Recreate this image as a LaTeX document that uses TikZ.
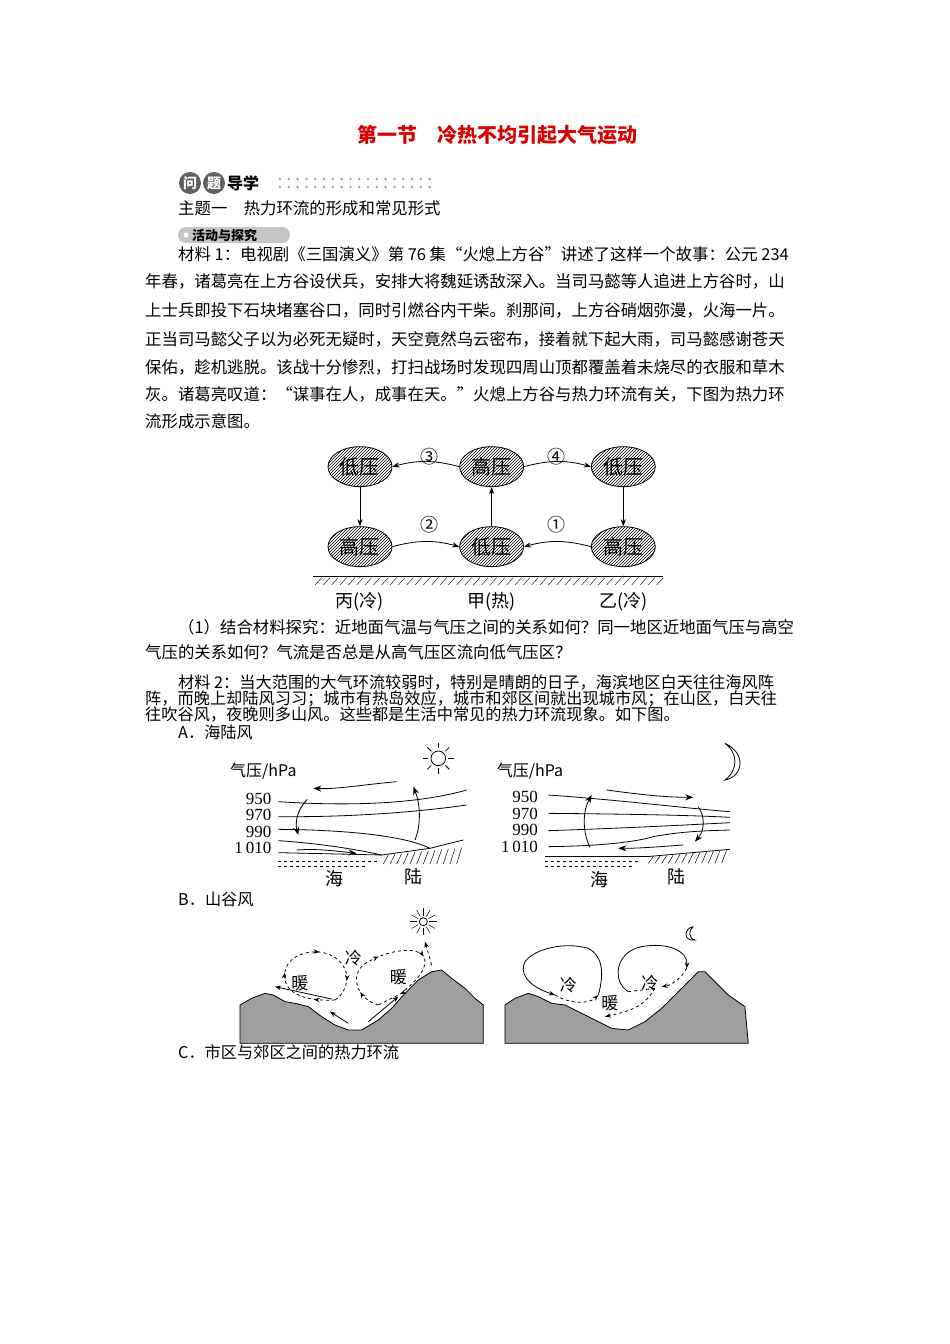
\documentclass[tikz,border=0pt]{standalone}
\usepackage{fontspec}
\setmainfont{Noto Sans CJK SC}
\newfontfamily\numf{Liberation Serif}
\usetikzlibrary{shapes.geometric,patterns,arrows.meta,decorations.markings}
\tikzset{
 ln/.style={anchor=west,inner sep=0,font=\fontsize{16.4}{16.4}\selectfont},
 ln2/.style={anchor=west,inner sep=0,font=\fontsize{16.2}{16.2}\selectfont},
 pres/.style={ellipse,draw,thick,pattern=north east lines,minimum width=64,minimum height=40,inner sep=0},
 plab/.style={inner sep=0,font=\fontsize{20}{20}\selectfont},
 arr/.style={-{Stealth[length=7pt]},thick},
 num/.style={font=\fontsize{18}{18}\selectfont,inner sep=0},
 midarrs/.style={postaction={decorate},decoration={markings,mark=between positions 0.12 and 1 step 0.25 with {\arrow{Stealth[length=6pt]}}}},
}
\begin{document}
\begin{tikzpicture}[x=1pt,y=-1pt]
\useasboundingbox[fill=white] (0,0) rectangle (950,1344);
% title
\node[inner sep=0,text=red!85!black,font=\bfseries\fontsize{20}{20}\selectfont] (title) at (497,135) {第一节\quad 冷热不均引起大气运动};
% header
\fill[gray!75!black] (190,183) circle (11);
\fill[gray!75!black] (214,183) circle (11);
\node[text=white,font=\bfseries\fontsize{14}{14}\selectfont,inner sep=0] (q1) at (190,183) {问};
\node[text=white,font=\bfseries\fontsize{14}{14}\selectfont,inner sep=0] (q2) at (214,183) {题};
\node[anchor=west,inner sep=0,font=\bfseries\fontsize{16}{16}\selectfont] (dx) at (227,183) {导学};
\foreach \i in {0,...,17}{\fill[gray!70] (280+\i*8.8,179) circle (1.4); \fill[gray!70] (280+\i*8.8,187) circle (1.4);}
\node[ln] (t1) at (178,208) {主题一\quad 热力环流的形成和常见形式};
\fill[gray!45,rounded corners=8] (178,227) rectangle (290,243);
\fill[white] (186,235) circle (2.5);
\node[anchor=west,inner sep=0,font=\bfseries\fontsize{13}{13}\selectfont] (hd) at (192,235) {活动与探究};
% paragraph 1
\node[ln] (p1) at (178,254) {材料 1：电视剧《三国演义》第 76 集“火熄上方谷”讲述了这样一个故事：公元 234};
\node[ln] (p2) at (145,281) {年春，诸葛亮在上方谷设伏兵，安排大将魏延诱敌深入。当司马懿等人追进上方谷时，山};
\node[ln] (p3) at (145,310) {上士兵即投下石块堵塞谷口，同时引燃谷内干柴。刹那间，上方谷硝烟弥漫，火海一片。};
\node[ln] (p4) at (145,339) {正当司马懿父子以为必死无疑时，天空竟然乌云密布，接着就下起大雨，司马懿感谢苍天};
\node[ln] (p5) at (145,367) {保佑，趁机逃脱。该战十分惨烈，打扫战场时发现四周山顶都覆盖着未烧尽的衣服和草木};
\node[ln] (p6) at (145,394) {灰。诸葛亮叹道：“谋事在人，成事在天。”火熄上方谷与热力环流有关，下图为热力环};
\node[ln] (p7) at (145,421) {流形成示意图。};
% circulation diagram
\begin{scope}[shift={(300,435)},x=0.3333pt,y=-0.3333pt]
\node[pres] (l1) at (180,95) {}; \node[plab] at (l1) {低压};
\node[pres] (h2) at (575,95) {}; \node[plab] at (h2) {高压};
\node[pres] (l3) at (970,95) {}; \node[plab] at (l3) {低压};
\node[pres] (h4) at (180,335) {}; \node[plab] at (h4) {高压};
\node[pres] (l5) at (575,335) {}; \node[plab] at (l5) {低压};
\node[pres] (h6) at (970,335) {}; \node[plab] at (h6) {高压};
\draw[arr] (h2.west) to[bend right=15] (l1.east);
\draw[arr] (h2.east) to[bend left=15] (l3.west);
\draw[arr] (h4.east) to[bend left=15] (l5.west);
\draw[arr] (h6.west) to[bend right=15] (l5.east);
\draw[arr] (l1.south) -- (h4.north);
\draw[arr] (l5.north) -- (h2.south);
\draw[arr] (l3.south) -- (h6.north);
\node[num] (n3) at (390,65) {③};
\node[num] (n4) at (770,65) {④};
\node[num] (n2) at (390,270) {②};
\node[num] (n1) at (770,270) {①};
\draw[thick] (40,425) -- (1090,425);
\foreach \x in {45,70,...,1080}{\draw (\x,450) -- ({\x+20},428);}
\foreach \x/\n in {180/a,575/b,970/c}{\fill (\x,425) circle (3) coordinate (d\n);}
\node[inner sep=0,font=\fontsize{18}{18}\selectfont] (g1) at (180,500) {丙(冷)};
\node[inner sep=0,font=\fontsize{18}{18}\selectfont] (g2) at (575,500) {甲(热)};
\node[inner sep=0,font=\fontsize{18}{18}\selectfont] (g3) at (970,500) {乙(冷)};
\end{scope}
\node[ln] (q1t) at (178,627) {（1）结合材料探究：近地面气温与气压之间的关系如何？同一地区近地面气压与高空};
\node[ln] (q2t) at (145,652) {气压的关系如何？气流是否总是从高气压区流向低气压区？};
\node[ln2] (m1) at (178,683) {材料 2：当大范围的大气环流较弱时，特别是晴朗的日子，海滨地区白天往往海风阵};
\node[ln2] (m2) at (145,699) {阵，而晚上却陆风习习；城市有热岛效应，城市和郊区间就出现城市风；在山区，白天往};
\node[ln2] (m3) at (145,715) {往吹谷风，夜晚则多山风。这些都是生活中常见的热力环流现象。如下图。};
\node[ln2] (sA) at (178,732) {A．海陆风};
\node[ln2] (sB) at (178,899) {B．山谷风};
\node[ln2] (sC) at (178,1052) {C．市区与郊区之间的热力环流};
% sea-land breeze
\begin{scope}[shift={(220,740)},x=0.3333pt,y=-0.3333pt,line width=0.8pt]
\node[inner sep=0,font=\fontsize{16}{16}\selectfont] (yl1) at (130,95) {气压/hPa};
\foreach \v/\y in {950/178,970/225,990/275}{\node[inner sep=0,anchor=east,font=\numf\fontsize{17}{17}\selectfont] at (155,\y) {\v};}
\node[inner sep=0,anchor=east,font=\numf\fontsize{17}{17}\selectfont] at (155,325) {1\,010};
\draw (175,185) .. controls (400,200) and (600,190) .. (740,150);
\draw (175,230) .. controls (400,232) and (600,215) .. (740,195);
\draw (175,268) .. controls (400,270) and (560,290) .. (630,325);
\draw (175,302) .. controls (300,310) and (420,330) .. (485,345);
\draw (175,338) -- (485,345);
\draw (485,345) -- (630,325) -- (730,300);
\foreach \x in {490,510,...,720}{\draw[line width=0.5pt] (\x,372) -- ({\x+15},{345-(\x-490)*0.1});}
\draw[dashed] (175,365) -- (480,365);
\draw[dashed] (175,378) -- (440,378);
\draw[-{Stealth[length=8pt]}] (530,125) .. controls (420,135) and (350,148) .. (280,145);
\draw[-{Stealth[length=8pt]}] (262,178) .. controls (230,210) and (225,250) .. (235,285);
\draw[-{Stealth[length=8pt]}] (230,330) .. controls (300,325) and (360,335) .. (410,340);
\draw[-{Stealth[length=8pt]}] (585,300) .. controls (605,250) and (600,190) .. (580,140);
\node[inner sep=0,font=\fontsize{18}{18}\selectfont] (sea1) at (345,415) {海};
\node[inner sep=0,font=\fontsize{18}{18}\selectfont] (land1) at (580,410) {陆};
\draw (655,55) circle (22);
\foreach \a in {0,45,...,315}{\draw (655,55) ++(\a:30) -- ++(\a:17);}
% right
\node[inner sep=0,font=\fontsize{16}{16}\selectfont] (yl2) at (930,95) {气压/hPa};
\foreach \v/\y in {950/170,970/222,990/270}{\node[inner sep=0,anchor=east,font=\numf\fontsize{17}{17}\selectfont] at (955,\y) {\v};}
\node[inner sep=0,anchor=east,font=\numf\fontsize{17}{17}\selectfont] at (955,320) {1\,010};
\draw (985,165) .. controls (1200,180) and (1400,205) .. (1530,215);
\draw (985,220) .. controls (1200,222) and (1400,225) .. (1530,232);
\draw (985,272) .. controls (1200,265) and (1400,255) .. (1530,248);
\draw (985,320) .. controls (1150,318) and (1250,305) .. (1300,290) .. controls (1380,275) and (1450,272) .. (1530,270);
\draw (975,350) -- (1280,350);
\draw[dashed] (975,365) -- (1260,365);
\draw[dashed] (975,378) -- (1240,378);
\draw (1280,350) -- (1530,328);
\foreach \x in {1285,1305,...,1515}{\draw[line width=0.5pt] (\x,370) -- ({\x+15},{350-(\x-1285)*0.088});}
\draw[-{Stealth[length=8pt]}] (1160,150) .. controls (1250,162) and (1330,172) .. (1420,172);
\draw[-{Stealth[length=8pt]}] (1435,200) .. controls (1455,230) and (1455,270) .. (1425,305);
\draw[-{Stealth[length=8pt]}] (1390,315) .. controls (1320,320) and (1260,325) .. (1195,325);
\draw[-{Stealth[length=8pt]}] (1110,322) .. controls (1085,270) and (1090,210) .. (1115,165);
\node[inner sep=0,font=\fontsize{18}{18}\selectfont] (sea2) at (1140,420) {海};
\node[inner sep=0,font=\fontsize{18}{18}\selectfont] (land2) at (1370,410) {陆};
\draw (1515,10) .. controls (1580,40) and (1570,110) .. (1515,120) .. controls (1555,90) and (1555,40) .. (1515,10);
\end{scope}
% mountain-valley
\begin{scope}[shift={(235,905)},x=0.3333pt,y=-0.3333pt,line width=0.8pt]
\fill[gray!75,draw=black] (15,415) -- (15,300) -- (50,280) -- (90,265) -- (115,270) -- (150,290) -- (180,295) -- (220,305) -- (260,335) -- (300,360) -- (340,375) -- (380,375) -- (430,345) -- (470,310) -- (510,265) -- (550,225) -- (590,200) -- (620,195) -- (650,220) -- (690,250) -- (720,280) -- (745,300) -- (745,415) -- cycle;
\draw[dashed,midarrs] (300,285) .. controls (200,290) and (140,260) .. (150,200) .. controls (160,140) and (260,120) .. (310,165) .. controls (350,200) and (340,260) .. (300,285);
\draw[dashed,midarrs] (430,300) .. controls (360,280) and (340,200) .. (400,170) .. controls (470,130) and (570,120) .. (570,170) .. controls (570,200) and (540,230) .. (500,265) -- (430,300);
\draw[-{Stealth[length=6pt]}] (290,282) -- (120,245);
\draw[-{Stealth[length=6pt]}] (340,355) -- (285,320);
\draw[-{Stealth[length=6pt]}] (400,350) -- (490,275);
\draw[dashed,-{Stealth[length=6pt]}] (590,180) -- (570,110);
\node[inner sep=0,font=\fontsize{17}{17}\selectfont] (w1) at (195,235) {暖};
\node[inner sep=0,font=\fontsize{17}{17}\selectfont] (c1) at (355,160) {冷};
\node[inner sep=0,font=\fontsize{17}{17}\selectfont] (w2) at (490,215) {暖};
\draw (565,50) circle (12);
\foreach \a in {0,30,...,330}{\draw[line width=0.5pt] (565,50) ++(\a:18) -- ++(\a:22);}
% right
\fill[gray!75,draw=black] (810,415) -- (810,300) -- (840,280) -- (880,265) -- (910,275) -- (950,295) -- (990,300) -- (1030,320) -- (1080,345) -- (1130,370) -- (1180,375) -- (1230,350) -- (1280,310) -- (1320,270) -- (1350,240) -- (1390,200) -- (1410,200) -- (1440,230) -- (1480,270) -- (1530,305) -- (1540,415) -- cycle;
\draw[-{Stealth[length=6pt]}] (1090,270) .. controls (1110,200) and (1100,150) .. (1060,130) .. controls (990,110) and (900,130) .. (870,170) .. controls (855,200) and (870,240) .. (960,270);
\draw[dashed,-{Stealth[length=6pt]}] (960,270) .. controls (1000,295) and (1060,300) .. (1090,270);
\draw[-{Stealth[length=6pt]}] (1180,260) .. controls (1130,230) and (1140,140) .. (1220,125) .. controls (1300,110) and (1360,140) .. (1355,190);
\draw[dashed,-{Stealth[length=6pt]}] (1355,190) .. controls (1340,220) and (1310,240) .. (1280,245);
\draw[dashed,-{Stealth[length=6pt]}] (1260,250) .. controls (1230,300) and (1200,315) .. (1110,335);
\draw[dashed] (1180,260) -- (1260,250);
\node[inner sep=0,font=\fontsize{17}{17}\selectfont] (c2) at (1000,240) {冷};
\node[inner sep=0,font=\fontsize{17}{17}\selectfont] (w3) at (1125,295) {暖};
\node[inner sep=0,font=\fontsize{17}{17}\selectfont] (c3) at (1245,235) {冷};
\draw (1375,65) .. controls (1345,70) and (1345,110) .. (1380,105) .. controls (1360,100) and (1360,75) .. (1375,65);
\end{scope}
\end{tikzpicture}
\end{document}
